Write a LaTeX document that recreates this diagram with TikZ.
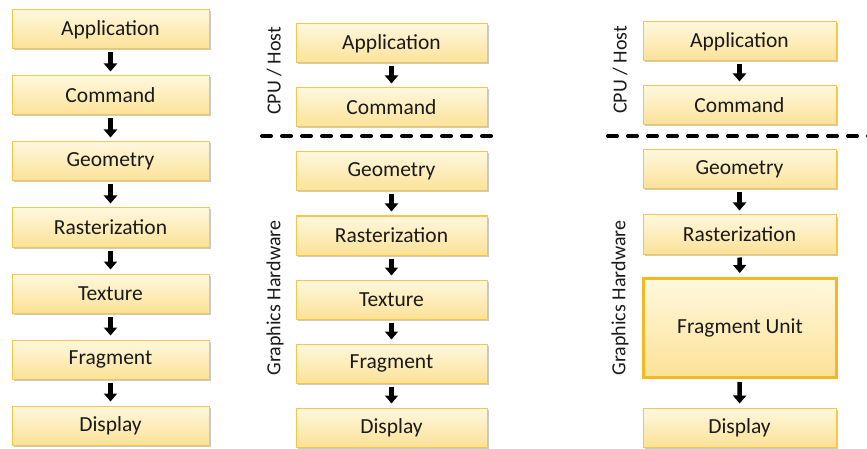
\documentclass[tikz,border=0pt]{standalone}
\usepackage{fontspec}
\setmainfont{Carlito}
\usetikzlibrary{arrows.meta,shadows}
\definecolor{boxtop}{HTML}{FFF8DE}
\definecolor{boxbot}{HTML}{FCE297}
\definecolor{boxline}{HTML}{F6C649}
\definecolor{unitline}{HTML}{F4B824}
\definecolor{ink}{HTML}{1A1A1A}
\tikzset{
  stage/.style={draw=boxline, line width=1pt, top color=boxtop, bottom color=boxbot,
    minimum height=39pt, inner sep=0pt, font=\fontsize{21.5}{25}\selectfont, text=ink,
    drop shadow={shadow xshift=1.5pt, shadow yshift=-1.5pt, opacity=0.35, fill=black!60}},
  unit/.style={stage, draw=unitline, line width=3pt, minimum height=99pt, minimum width=193pt},
  flow/.style={-{Triangle[width=13pt,length=8pt]}, line width=4.5pt, black,
    shorten <=3pt, shorten >=4pt},
  divider/.style={line width=4pt, dash pattern=on 9pt off 11pt, line cap=round, black},
  side/.style={rotate=90, font=\fontsize{20}{24}\selectfont, text=ink, inner sep=0pt}
}
\begin{document}
\begin{tikzpicture}[x=1pt,y=-1pt]
\useasboundingbox (0,0) rectangle (867,449);

% full pipeline
\begin{scope}[every node/.append style={stage, minimum width=197pt}]
\node (a1) at (110.5,29.5)  {Application};
\node (a2) at (110.5,95.5)  {Command};
\node (a3) at (110.5,161.5) {Geometry};
\node (a4) at (110.5,227.5) {Rasterization};
\node (a5) at (110.5,293.5) {Texture};
\node (a6) at (110.5,359.5) {Fragment};
\node (a7) at (110.5,425.5) {Display};
\end{scope}
\foreach \i/\j in {a1/a2,a2/a3,a3/a4,a4/a5,a5/a6,a6/a7} \draw[flow] (\i) -- (\j);

% pipeline split between host and hardware
\begin{scope}[every node/.append style={stage, minimum width=191pt}]
\node (b1) at (391.5,43.5)  {Application};
\node (b2) at (391.5,107.5) {Command};
\node (b3) at (391.5,171.5) {Geometry};
\node (b4) at (391.5,235.5) {Rasterization};
\node (b5) at (391.5,299.5) {Texture};
\node (b6) at (391.5,363.5) {Fragment};
\node (b7) at (391.5,427.5) {Display};
\end{scope}
\foreach \i/\j in {b1/b2,b3/b4,b4/b5,b5/b6,b6/b7} \draw[flow] (\i) -- (\j);
\coordinate (bl) at (262,136);
\coordinate (br) at (502,136);
\draw[divider] (bl) -- (br);
\node[side] (bh) at (274,71) {CPU / Host};
\node[side] (bg) at (275,298) {Graphics Hardware};

% pipeline with a programmable fragment unit
\begin{scope}[every node/.append style={stage, minimum width=193pt}]
\node (c1) at (739.5,41.5)  {Application};
\node (c2) at (739.5,105.5) {Command};
\node (c3) at (739.5,169.5) {Geometry};
\node (c4) at (739.5,234.5) {Rasterization};
\node (c7) at (739.5,427.5) {Display};
\end{scope}
\node[unit] (c5) at (740,328) {Fragment Unit};
\foreach \i/\j in {c1/c2,c3/c4,c4/c5,c5/c7} \draw[flow] (\i) -- (\j);
\coordinate (cl) at (608,136);
\coordinate (cr) at (870,136);
\draw[divider] (cl) -- (cr);
\node[side] (ch) at (620,70) {CPU / Host};
\node[side] (cg) at (620,298) {Graphics Hardware};
\end{tikzpicture}
\end{document}
